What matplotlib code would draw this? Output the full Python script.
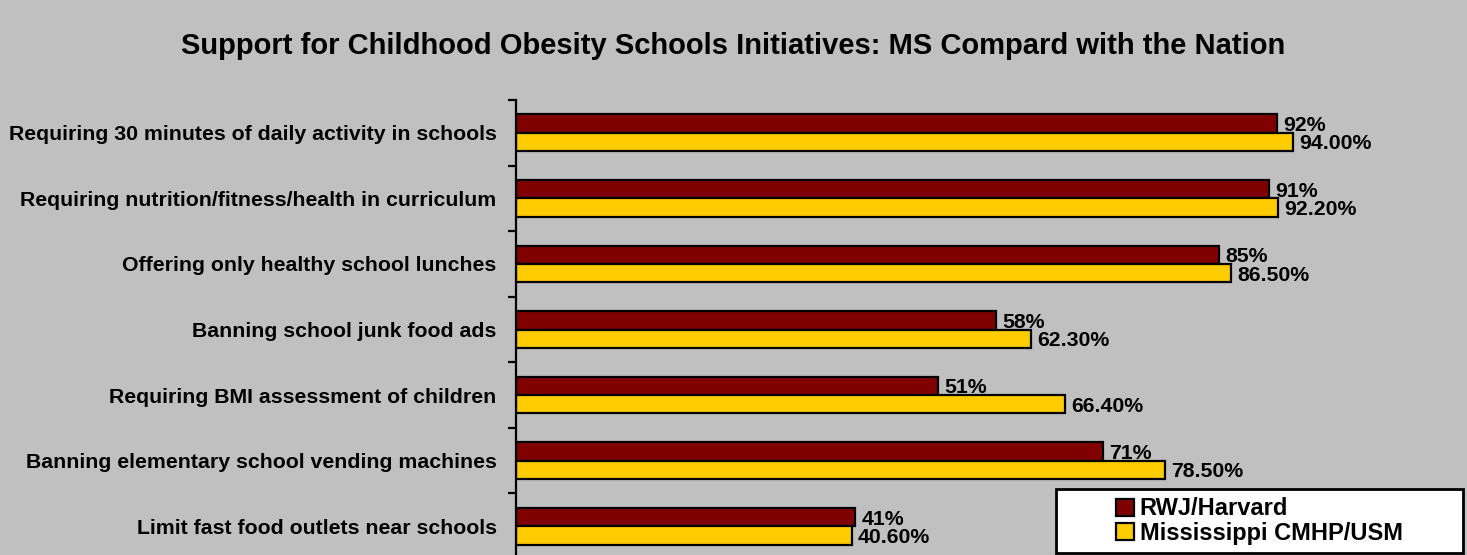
import matplotlib
matplotlib.use("Agg")
import matplotlib.pyplot as plt
from matplotlib.patches import Rectangle
import numpy as np

categories = [
    "Requiring 30 minutes of daily activity in schools",
    "Requiring nutrition/fitness/health in curriculum",
    "Offering only healthy school lunches",
    "Banning school junk food ads",
    "Requiring BMI assessment of children",
    "Banning elementary school vending machines",
    "Limit fast food outlets near schools",
]
rwj_harvard = [92, 91, 85, 58, 51, 71, 41]
mississippi = [94.0, 92.2, 86.5, 62.3, 66.4, 78.5, 40.6]
rwj_labels = [f"{v:.0f}%" for v in rwj_harvard]
ms_labels = [f"{v:.2f}%" for v in mississippi]

plt.rcParams["font.family"] = ["Liberation Sans", "DejaVu Sans"]
plt.rcParams["font.weight"] = "bold"

W, H = 1467, 555
fig = plt.figure(figsize=(W / 100, H / 100), dpi=100)
bg = "#c0c0c0"
fig.patch.set_facecolor(bg)

# axes area in pixels: left 516, top 100, bottom ~559 (runs past the lower edge)
left, top, bottom, right = 516, 100, 559, 516 + 827 * 1.1
ax = fig.add_axes([left / W, 1 - bottom / H, (right - left) / W, (bottom - top) / H])
ax.set_facecolor(bg)

n = len(categories)
y = np.arange(n)
bh = 0.28
ax.barh(y - bh / 2, rwj_harvard, height=bh, color="#800000", edgecolor="black",
        linewidth=1.6, label="RWJ/Harvard")
ax.barh(y + bh / 2, mississippi, height=bh, color="#ffcc00", edgecolor="black",
        linewidth=1.6, label="Mississippi CMHP/USM")

lab_fs = 15.3
for yi, v, t in zip(y, rwj_harvard, rwj_labels):
    ax.text(v + 0.75, yi - bh / 2, t, va="center_baseline", ha="left",
            fontsize=lab_fs, fontweight="bold")
for yi, v, t in zip(y, mississippi, ms_labels):
    ax.text(v + 0.75, yi + bh / 2, t, va="center_baseline", ha="left",
            fontsize=lab_fs, fontweight="bold")

ax.set_xlim(0, 110)
ax.set_ylim(n - 0.5, -0.5)
ax.set_yticks(np.arange(n + 1) - 0.5)
ax.set_yticklabels([])
ax.set_yticks(y, minor=True)
ax.set_yticklabels(categories, minor=True, fontsize=lab_fs, fontweight="bold")
ax.tick_params(axis="y", which="major", length=6, width=1.6, direction="out")
ax.tick_params(axis="y", which="minor", length=0, pad=14)
ax.set_xticks([])
for s in ["top", "right", "bottom"]:
    ax.spines[s].set_visible(False)
ax.spines["left"].set_linewidth(1.6)

fig.text(733 / W, 1 - 46 / H,
         "Support for Childhood Obesity Schools Initiatives: MS Compard with the Nation",
         ha="center", va="center", fontsize=21, fontweight="bold")

# legend box with a white fill and black border
lx0, ly0, lx1, ly1 = 1056, 489, 1463, 553
fig.patches.append(Rectangle((lx0 / W, 1 - ly1 / H), (lx1 - lx0) / W, (ly1 - ly0) / H,
                             transform=fig.transFigure, facecolor="white",
                             edgecolor="black", linewidth=2.0, zorder=2))
leg = fig.legend(loc="center", bbox_to_anchor=((lx0 + lx1) / 2 / W, 1 - (ly0 + ly1) / 2 / H),
                 frameon=False, fontsize=17,
                 handlelength=0.75, handleheight=0.75, handletextpad=0.25,
                 borderpad=0, labelspacing=0.05, borderaxespad=0)
leg.set_zorder(3)
for t in leg.get_texts():
    t.set_fontweight("bold")

fig.savefig("out.png", dpi=100, facecolor=bg)
